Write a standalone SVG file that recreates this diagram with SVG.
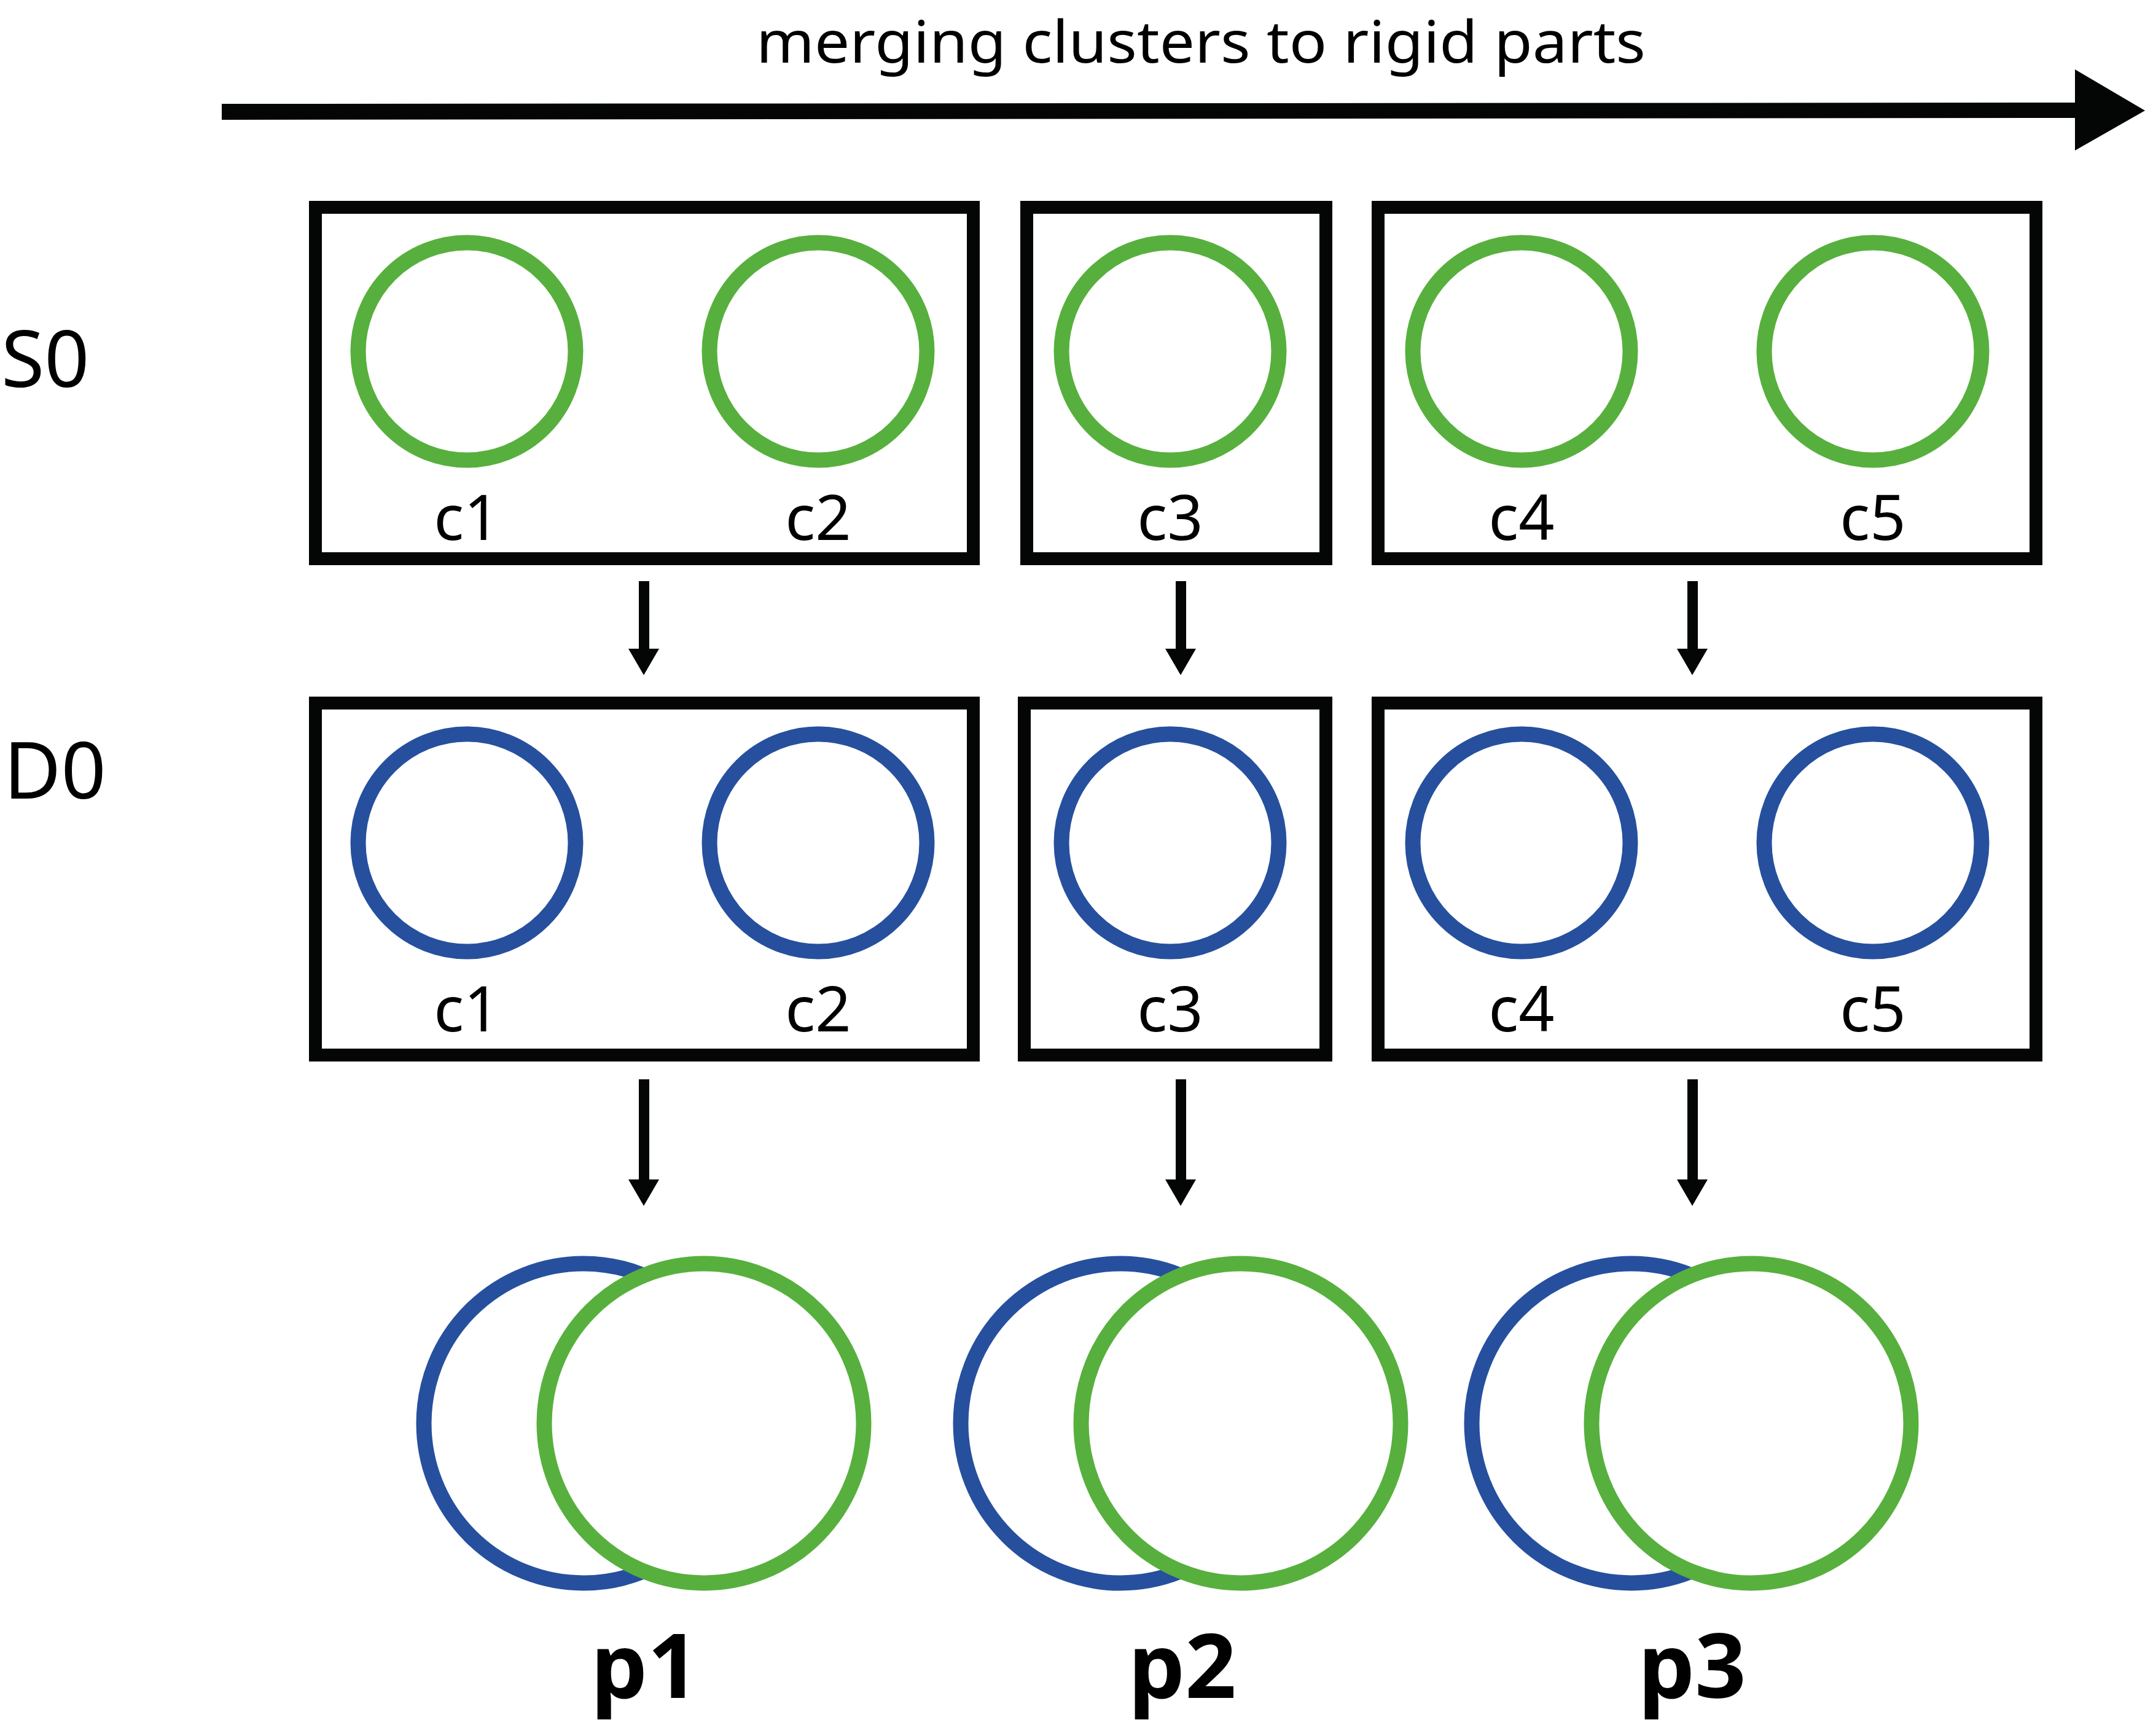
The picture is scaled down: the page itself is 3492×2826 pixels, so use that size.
<svg xmlns="http://www.w3.org/2000/svg" width="3492" height="2826" viewBox="0 0 3492 2826">
<style>
.box{fill:none;stroke:#040605;stroke-width:21}
.g{fill:#fff;stroke:#57b03d;stroke-width:25}
.b{fill:#fff;stroke:#26509e;stroke-width:25}
.lbl{font-family:"Noto Sans","Open Sans","Liberation Sans",sans-serif;font-size:102px;fill:#000;text-anchor:middle}
.row{font-family:"Noto Sans","Open Sans","Liberation Sans",sans-serif;font-size:128px;fill:#000}
.part{font-family:"Noto Sans","Open Sans","Liberation Sans",sans-serif;font-size:146px;font-weight:bold;fill:#000;text-anchor:middle}
.arr{fill:#040605}
</style>
<rect width="3492" height="2826" fill="#fff"/>
<g id="title">
<text x="1955" y="102" font-family="Noto Sans, Open Sans, Liberation Sans, sans-serif" font-size="95" text-anchor="middle" textLength="1448" lengthAdjust="spacingAndGlyphs">merging clusters to rigid parts</text>
<polygon class="arr" points="361,169 3378,167 3378,113 3492,180 3378,245 3378,192 361,195"/>
</g>
<g id="row-labels">
<text class="row" x="2" y="630">S0</text>
<text class="row" x="6" y="1300">D0</text>
</g>
<g id="S0-box1">
<rect class="box" x="513.5" y="337.5" width="1071" height="572"/>
<circle class="g" cx="760" cy="572" r="177"/>
<text class="lbl" x="760" y="879">c1</text>
<circle class="g" cx="1332" cy="572" r="177"/>
<text class="lbl" x="1332" y="879">c2</text>
</g>
<g id="S0-box2">
<rect class="box" x="1671.5" y="337.5" width="487" height="572"/>
<circle class="g" cx="1905" cy="572" r="177"/>
<text class="lbl" x="1905" y="879">c3</text>
</g>
<g id="S0-box3">
<rect class="box" x="2243.5" y="337.5" width="1071" height="572"/>
<circle class="g" cx="2477" cy="572" r="177"/>
<text class="lbl" x="2477" y="879">c4</text>
<circle class="g" cx="3049" cy="572" r="177"/>
<text class="lbl" x="3049" y="879">c5</text>
</g>
<g id="D0-box1">
<rect class="box" x="513.5" y="1144.5" width="1071" height="573"/>
<circle class="b" cx="760" cy="1372" r="177"/>
<text class="lbl" x="760" y="1679">c1</text>
<circle class="b" cx="1332" cy="1372" r="177"/>
<text class="lbl" x="1332" y="1679">c2</text>
</g>
<g id="D0-box2">
<rect class="box" x="1667.5" y="1144.5" width="491" height="573"/>
<circle class="b" cx="1905" cy="1372" r="177"/>
<text class="lbl" x="1905" y="1679">c3</text>
</g>
<g id="D0-box3">
<rect class="box" x="2243.5" y="1144.5" width="1071" height="573"/>
<circle class="b" cx="2477" cy="1372" r="177"/>
<text class="lbl" x="2477" y="1679">c4</text>
<circle class="b" cx="3049" cy="1372" r="177"/>
<text class="lbl" x="3049" y="1679">c5</text>
</g>
<g id="p1">
<circle class="b" cx="950" cy="2317" r="260"/>
<circle class="g" cx="1146" cy="2317" r="260"/>
<text class="part" x="1050" y="2764">p1</text>
</g>
<g id="p2">
<circle class="b" cx="1824" cy="2317" r="260"/>
<circle class="g" cx="2020" cy="2317" r="260"/>
<text class="part" x="1925" y="2764">p2</text>
</g>
<g id="p3">
<circle class="b" cx="2656" cy="2317" r="260"/>
<circle class="g" cx="2851" cy="2317" r="260"/>
<text class="part" x="2755" y="2764">p3</text>
</g>
<g id="connectors">
<polygon class="arr" points="1040,946 1057,946 1057,1056 1073,1056 1048,1099 1023,1056 1040,1056"/>
<polygon class="arr" points="1914,946 1931,946 1931,1056 1947,1056 1922,1099 1897,1056 1914,1056"/>
<polygon class="arr" points="2747,946 2764,946 2764,1056 2780,1056 2755,1099 2730,1056 2747,1056"/>
<polygon class="arr" points="1040,1757 1057,1757 1057,1920 1073,1920 1048,1963 1023,1920 1040,1920"/>
<polygon class="arr" points="1914,1757 1931,1757 1931,1920 1947,1920 1922,1963 1897,1920 1914,1920"/>
<polygon class="arr" points="2747,1757 2764,1757 2764,1920 2780,1920 2755,1963 2730,1920 2747,1920"/>
</g>
</svg>
